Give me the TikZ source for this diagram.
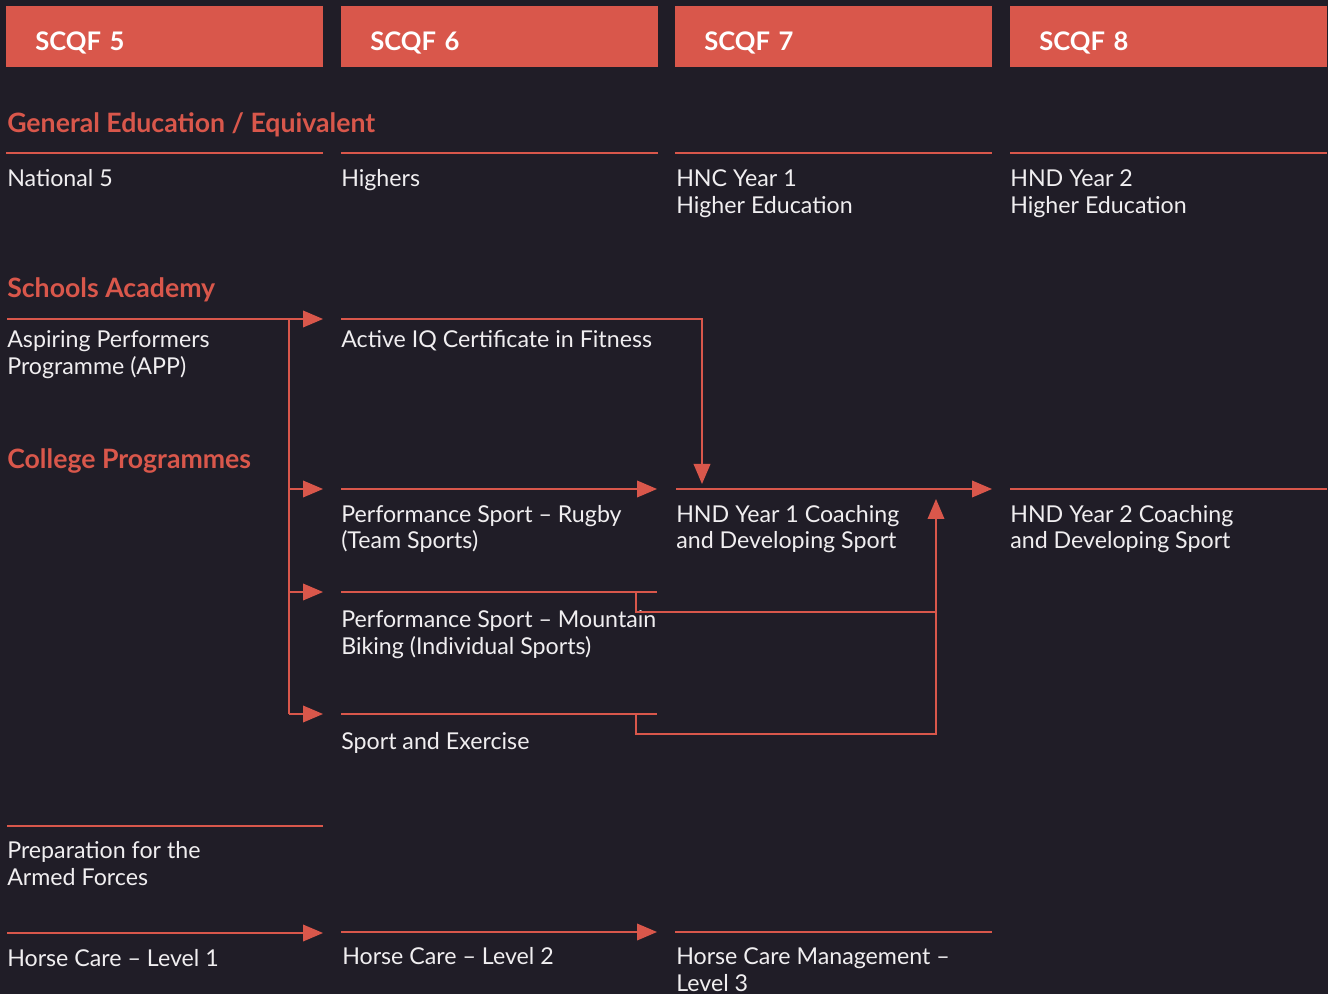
\documentclass[tikz,border=0pt]{standalone}
\usepackage{fontspec}
\setmainfont{Lato}
\usetikzlibrary{arrows.meta}
\definecolor{bg}{HTML}{201D27}
\definecolor{accent}{HTML}{D9574B}
\definecolor{txt}{HTML}{F0EEF0}
\begin{document}
\begin{tikzpicture}[x=0.75pt,y=-0.75pt,
  hdr/.style={fill=accent, text=white, anchor=north west, minimum width=237.75pt, minimum height=45.75pt,
    inner xsep=21.75pt, inner ysep=0pt, text width=194.25pt, align=left,
    text height=20.25pt, text depth=0pt,
    font=\fontsize{19.2}{22}\selectfont\bfseries},
  sec/.style={text=accent, anchor=base west, inner sep=0pt, font=\fontsize{20}{24}\selectfont\bfseries},
  body/.style={text=txt, anchor=base west, inner sep=0pt, align=left, font=\fontsize{17.4}{20.25}\selectfont},
  rule/.style={draw=accent, line width=1.1pt},
  arr/.style={rule, -{Triangle[length=15pt,width=12.5pt]}}]
\fill[bg] (0,0) rectangle (1328,994);
\useasboundingbox (0,0) rectangle (1328,994);
% headers
\node[hdr] (h5) at (6,6) {SCQF 5};
\node[hdr] (h6) at (341,6) {SCQF 6};
\node[hdr] (h7) at (675,6) {SCQF 7};
\node[hdr] (h8) at (1010,6) {SCQF 8};
% section headings
\node[sec] (sgen) at (7,133) {General Education / Equivalent};
\node[sec] (ssch) at (7,298) {Schools Academy};
\node[sec] (scol) at (7,469) {College Programmes};
% general education (two-line nodes are placed at their last baseline)
\draw[rule] (6,153) -- (323,153);
\draw[rule] (341,153) -- (658,153);
\draw[rule] (675,153) -- (992,153);
\draw[rule] (1010,153) -- (1327,153);
\node[body] (nat5) at (7,187) {National 5};
\node[body] (high) at (341,187) {Highers};
\node[body] (hnc) at (676,214) {HNC Year 1\\Higher Education};
\node[body] (hnd2he) at (1010,214) {HND Year 2\\Higher Education};
% schools academy / college
\node[body] (app) at (7,375) {Aspiring Performers\\Programme (APP)};
\node[body] (aiq) at (341,348) {Active IQ Certificate in Fitness};
\node[body] (rug) at (341,549) {Performance Sport -- Rugby\\(Team Sports)};
\node[body] (mtb) at (341,654) {Performance Sport -- Mountain\\Biking (Individual Sports)};
\node[body] (spx) at (341,749) {Sport and Exercise};
\node[body] (hnd1) at (676,549) {HND Year 1 Coaching\\and Developing Sport};
\node[body] (hnd2) at (1010,549) {HND Year 2 Coaching\\and Developing Sport};
\coordinate (bus) at (289,319);
\draw[arr] (7,319) -- (323,319);
\draw[rule] (bus) -- (289,714);
\draw[arr] (289,489) -- (323,489);
\draw[arr] (289,592) -- (323,592);
\draw[arr] (289,714) -- (323,714);
\draw[arr] (341,319) -- (702,319) -- (702,484);
\draw[arr] (341,489) -- (657,489);
\draw[arr] (676,489) -- (992,489);
\draw[rule] (1010,489) -- (1327,489);
\draw[rule] (341,592) -- (657,592);
\draw[rule] (341,714) -- (657,714);
\draw[rule] (636,592) -- (636,612) -- (936,612);
\draw[arr] (636,714) -- (636,734) -- (936,734) -- (936,499);
% armed forces
\draw[rule] (7,826) -- (323,826);
\node[body] (arm) at (7,885) {Preparation for the\\Armed Forces};
% horse care
\draw[arr] (7,933) -- (323,933);
\draw[arr] (341,932) -- (657,932);
\draw[rule] (675,932) -- (992,932);
\node[body] (hc1) at (7,966) {Horse Care -- Level 1};
\node[body] (hc2) at (342,964) {Horse Care -- Level 2};
\node[body] (hc3) at (676,991) {Horse Care Management --\\Level 3};
\end{tikzpicture}
\end{document}
